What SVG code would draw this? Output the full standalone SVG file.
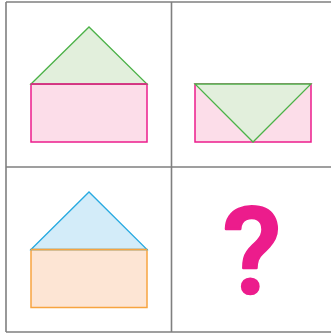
<svg xmlns="http://www.w3.org/2000/svg" width="331" height="333" viewBox="0 0 331 333">
<style>
.grid{fill:none;stroke:#7f7f7f;stroke-width:1.6}
.pinkRect{fill:#fcdde9;stroke:#ec1c8c;stroke-width:1.5}
.greenTri{fill:#e2efdc;stroke:#4cb248;stroke-width:1.3;stroke-linejoin:miter}
.blueTri{fill:#d3ecf9;stroke:#27aae1;stroke-width:1.3}
.orangeRect{fill:#fde5d4;stroke:#f7a440;stroke-width:1.5}
.q{fill:#ec1c8c;stroke:#ec1c8c;stroke-width:2.5;stroke-linejoin:round;font-family:Roboto,"Liberation Sans",sans-serif;font-weight:500;font-size:121px}
</style>
<rect x="0" y="0" width="331" height="333" fill="#ffffff"/>
<g id="grid">
<line class="grid" x1="6" y1="2" x2="331" y2="2"/>
<line class="grid" x1="6" y1="167" x2="331" y2="167"/>
<line class="grid" x1="6" y1="332" x2="331" y2="332"/>
<line class="grid" x1="6" y1="2" x2="6" y2="332"/>
<line class="grid" x1="171.5" y1="2" x2="171.5" y2="332"/>
</g>
<g id="cell1">
<rect class="pinkRect" x="31" y="84" width="116" height="58"/>
<polygon class="greenTri" points="31,84 89,27 147,84"/>
<rect x="31" y="83.2" width="116" height="1.6" fill="#ec1c8c"/>
</g>
<g id="cell2">
<rect class="pinkRect" x="195" y="84" width="116" height="58"/>
<polygon class="greenTri" points="195,84 311,84 253,142"/>
</g>
<g id="cell3">
<rect class="orangeRect" x="31" y="249.5" width="116" height="58"/>
<polygon class="blueTri" points="31,249.5 89,192 147,249.5"/>
<rect x="31" y="248.7" width="116" height="1.6" fill="#f7a440"/>
</g>
<g id="cell4">
<text class="q" x="252" y="293" text-anchor="middle">?</text>
</g>
</svg>
